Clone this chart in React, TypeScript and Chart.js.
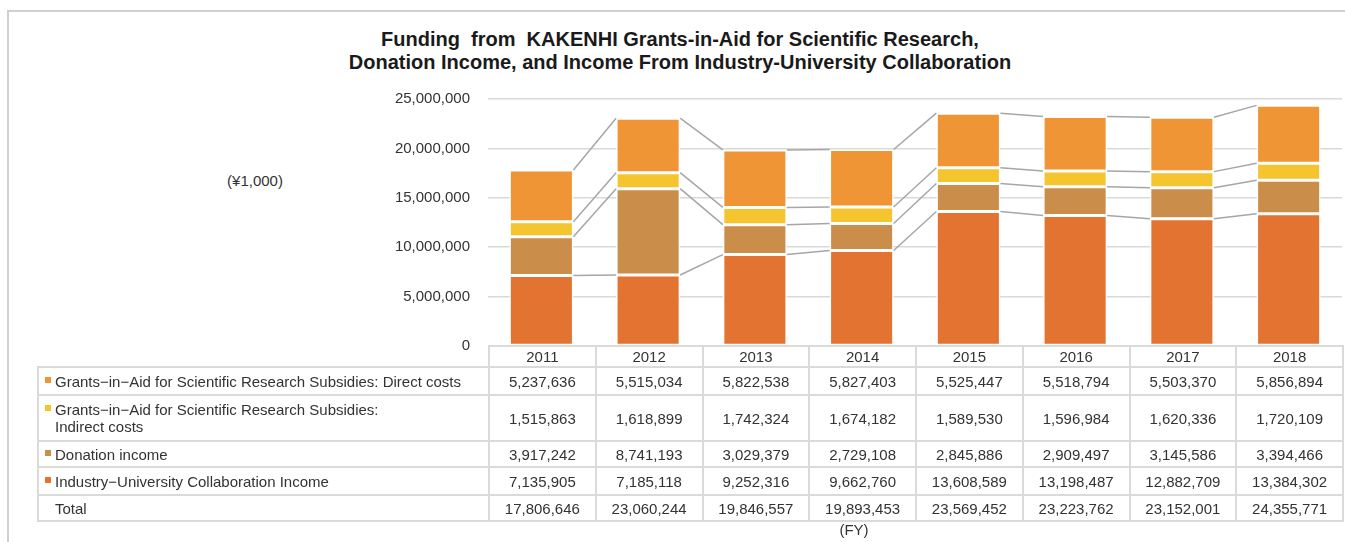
import React, { useEffect, useRef } from "react";
import { Chart, registerables } from "chart.js";

Chart.register(...registerables);

const years = ["2011", "2012", "2013", "2014", "2015", "2016", "2017", "2018"];
const directCosts = [5237636, 5515034, 5822538, 5827403, 5525447, 5518794, 5503370, 5856894];
const indirectCosts = [1515863, 1618899, 1742324, 1674182, 1589530, 1596984, 1620336, 1720109];
const donationIncome = [3917242, 8741193, 3029379, 2729108, 2845886, 2909497, 3145586, 3394466];
const industryIncome = [7135905, 7185118, 9252316, 9662760, 13608589, 13198487, 12882709, 13384302];
const totals = [17806646, 23060244, 19846557, 19893453, 23569452, 23223762, 23152001, 24355771];

const labelDirect = "Grants\u2212in\u2212Aid for Scientific Research Subsidies: Direct costs";
const labelIndirect1 = "Grants\u2212in\u2212Aid for Scientific Research Subsidies:";
const labelIndirect2 = "Indirect costs";
const labelDonation = "Donation income";
const labelIndustry = "Industry\u2212University Collaboration Income";
const labelTotal = "Total";

const titleLine1 = "Funding\u00a0 from\u00a0 KAKENHI Grants-in-Aid for Scientific Research,";
const titleLine2 = "Donation Income, and Income From Industry-University Collaboration";
const unitLabel = "(\u00a51,000)";
const fyLabel = "(FY)";

const colDirect = "#EF9535";
const colIndirect = "#F5C530";
const colDonation = "#CB8D4A";
const colIndustry = "#E27330";

const FONT = "'Liberation Sans', Arial, sans-serif";
const TEXT = "#333333";
const BORDER = "2px solid #dadada";

const fmt = (v: number) => v.toLocaleString("en-US");

const seriesLinesPlugin = {
  id: "seriesLines",
  afterDatasetsDraw(chart: any) {
    const ctx = chart.ctx;
    ctx.save();
    ctx.strokeStyle = "#a6a6a6";
    ctx.lineWidth = 1.5;
    chart.data.datasets.forEach((_: any, d: number) => {
      const meta = chart.getDatasetMeta(d);
      for (let i = 0; i < meta.data.length - 1; i++) {
        const a: any = meta.data[i];
        const b: any = meta.data[i + 1];
        ctx.beginPath();
        ctx.moveTo(a.x + a.width / 2, a.y);
        ctx.lineTo(b.x - b.width / 2, b.y);
        ctx.stroke();
      }
    });
    ctx.restore();
  },
};

function ChartCanvas() {
  const ref = useRef<HTMLCanvasElement | null>(null);
  useEffect(() => {
    if (!ref.current) return;
    const mk = (label: string, data: number[], color: string) => ({
      label,
      data,
      backgroundColor: color,
      borderColor: "#ffffff",
      borderWidth: 1.5,
      borderSkipped: false,
      categoryPercentage: 1,
      barPercentage: 0.6,
    });
    const chart = new Chart(ref.current, {
      type: "bar",
      data: {
        labels: years,
        datasets: [
          mk(labelIndustry, industryIncome, colIndustry),
          mk(labelDonation, donationIncome, colDonation),
          mk(labelIndirect1 + " " + labelIndirect2, indirectCosts, colIndirect),
          mk(labelDirect, directCosts, colDirect),
        ],
      },
      options: {
        responsive: false,
        animation: false,
        devicePixelRatio: 1,
        layout: { padding: { left: 0, right: 3, top: 99, bottom: 196 } },
        plugins: { legend: { display: false }, title: { display: false }, tooltip: { enabled: false } },
        scales: {
          x: { stacked: true, display: false },
          y: {
            stacked: true,
            min: 0,
            max: 25000000,
            afterFit: (s: any) => {
              s.width = 488;
            },
            border: { display: false },
            grid: { color: "#d9d9d9", lineWidth: 1.5, drawTicks: false },
            ticks: {
              stepSize: 5000000,
              padding: 18,
              color: TEXT,
              font: { family: FONT, size: 15 },
              callback: (v: any) => fmt(Number(v)),
            },
          },
        },
      },
      plugins: [seriesLinesPlugin],
    } as any);
    return () => chart.destroy();
  }, []);
  return (
    <canvas
      ref={ref}
      width={1345}
      height={542}
      style={{ position: "absolute", left: 0, top: 0, width: 1345, height: 542 }}
    />
  );
}

const Marker = ({ color }: { color: string }) => (
  <span
    style={{
      display: "inline-block",
      width: 6,
      height: 6,
      background: color,
      marginTop: 4,
      marginRight: 4,
      flex: "0 0 auto",
    }}
  />
);

export default function App() {
  const rows: { marker: string | null; label: React.ReactNode; values: number[]; h: number }[] = [
    { marker: colDirect, label: labelDirect, values: directCosts, h: 26 },
    {
      marker: colIndirect,
      label: (
        <>
          {labelIndirect1}
          <br />
          {labelIndirect2}
        </>
      ),
      values: indirectCosts,
      h: 44,
    },
    { marker: colDonation, label: labelDonation, values: donationIncome, h: 24 },
    { marker: colIndustry, label: labelIndustry, values: industryIncome, h: 26 },
    { marker: null, label: labelTotal, values: totals, h: 24 },
  ];
  const cellBase: React.CSSProperties = {
    border: BORDER,
    padding: 0,
    textAlign: "center",
    verticalAlign: "middle",
  };
  return (
    <div
      style={{
        position: "fixed",
        left: 0,
        top: 0,
        width: 1345,
        height: 542,
        overflow: "hidden",
        background: "#ffffff",
        fontFamily: FONT,
        color: TEXT,
      }}
    >
      <div
        style={{
          position: "absolute",
          left: 7,
          top: 10,
          width: 1400,
          height: 600,
          border: "2px solid #d0d0d0",
        }}
      />
      <div
        style={{
          position: "absolute",
          left: 180,
          width: 1000,
          top: 28,
          textAlign: "center",
          fontWeight: "bold",
          fontSize: 20,
          lineHeight: "23px",
          color: "#1a1a1a",
        }}
      >
        <div>{titleLine1}</div>
        <div>{titleLine2}</div>
      </div>
      <div style={{ position: "absolute", left: 205, width: 100, top: 172, textAlign: "center", fontSize: 15 }}>
        {unitLabel}
      </div>
      <ChartCanvas />
      <table
        style={{
          position: "absolute",
          left: 37,
          top: 345,
          width: 1307,
          borderCollapse: "collapse",
          tableLayout: "fixed",
          fontSize: 15,
          background: "transparent",
        }}
      >
        <colgroup>
          <col style={{ width: 451 }} />
          {years.map((y) => (
            <col key={y} />
          ))}
        </colgroup>
        <tbody>
          <tr>
            <td style={{ padding: 0, border: "none", height: 19 }} />
            {years.map((y) => (
              <td key={y} style={{ ...cellBase, height: 19, background: "#fff" }}>
                {y}
              </td>
            ))}
          </tr>
          {rows.map((r, ri) => (
            <tr key={ri}>
              <td style={{ ...cellBase, textAlign: "left", height: r.h, background: "#fff" }}>
                <div style={{ display: "flex", alignItems: "flex-start", paddingLeft: 6, lineHeight: "17px" }}>
                  {r.marker ? <Marker color={r.marker} /> : <span style={{ width: 10, flex: "0 0 auto" }} />}
                  <span>{r.label}</span>
                </div>
              </td>
              {r.values.map((v, i) => (
                <td key={i} style={{ ...cellBase, height: r.h, background: "#fff" }}>
                  {fmt(v)}
                </td>
              ))}
            </tr>
          ))}
        </tbody>
      </table>
      <div style={{ position: "absolute", left: 804, width: 100, top: 521, textAlign: "center", fontSize: 15 }}>
        {fyLabel}
      </div>
    </div>
  );
}
